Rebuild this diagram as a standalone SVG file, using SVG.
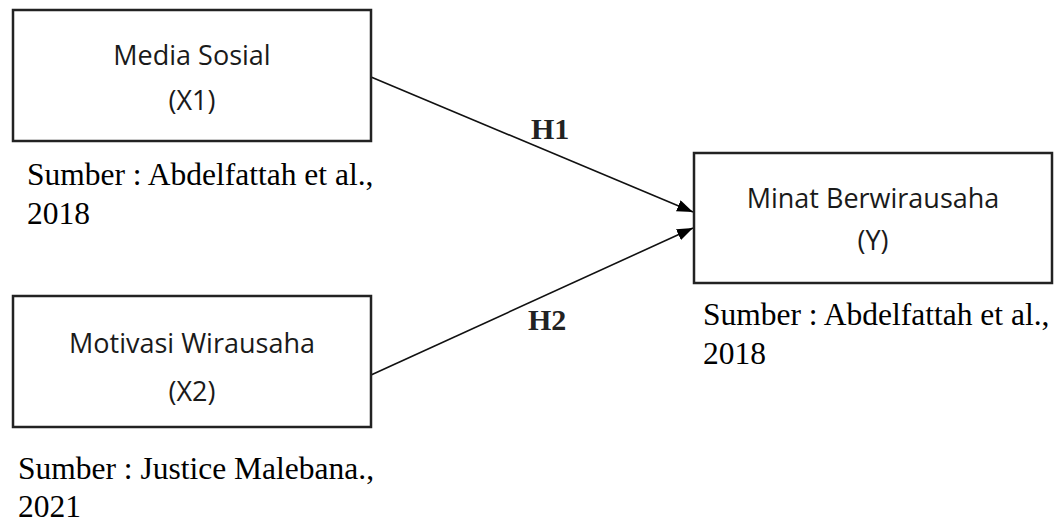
<svg xmlns="http://www.w3.org/2000/svg" width="1057" height="526" viewBox="0 0 1057 526">
<defs>
<marker id="arr" markerWidth="16" markerHeight="12" refX="16" refY="6" orient="auto" markerUnits="userSpaceOnUse">
<path d="M0,0 L16,6 L0,12 Z" fill="#000"/>
</marker>
<style>
.box{fill:#fff;stroke:#222;stroke-width:2.5}
.lbl{font-family:"Open Sans","Noto Sans",sans-serif;font-size:27px;fill:#1a1a1a;text-anchor:middle}
.src{font-family:"Liberation Serif","Times New Roman",serif;font-size:31.5px;fill:#000}
.h{font-family:"Liberation Serif","Times New Roman",serif;font-size:30px;font-weight:bold;fill:#222}
.edge{stroke:#111;stroke-width:1.6;fill:none}
</style>
</defs>
<rect width="1057" height="526" fill="#fff"/>
<g id="connectors">
<line class="edge" x1="371" y1="77" x2="693" y2="212" marker-end="url(#arr)"/>
<line class="edge" x1="371" y1="375" x2="693" y2="228" marker-end="url(#arr)"/>
<text class="h" x="531" y="139">H1</text>
<text class="h" x="528" y="330">H2</text>
</g>
<g id="x1">
<rect class="box" x="13" y="10" width="358" height="131"/>
<text class="lbl" x="192" y="65">Media Sosial</text>
<text class="lbl" x="192" y="110">(X1)</text>
<text class="src" x="27" y="185">Sumber : Abdelfattah et al.,</text>
<text class="src" x="27" y="224">2018</text>
</g>
<g id="x2">
<rect class="box" x="13" y="296" width="358" height="131"/>
<text class="lbl" x="192" y="353">Motivasi Wirausaha</text>
<text class="lbl" x="192" y="401">(X2)</text>
<text class="src" x="18" y="479">Sumber : Justice Malebana.,</text>
<text class="src" x="18" y="517">2021</text>
</g>
<g id="y">
<rect class="box" x="694" y="153" width="358" height="130"/>
<text class="lbl" x="873" y="208">Minat Berwirausaha</text>
<text class="lbl" x="873" y="250">(Y)</text>
<text class="src" x="703" y="325">Sumber : Abdelfattah et al.,</text>
<text class="src" x="703" y="364">2018</text>
</g>
</svg>
